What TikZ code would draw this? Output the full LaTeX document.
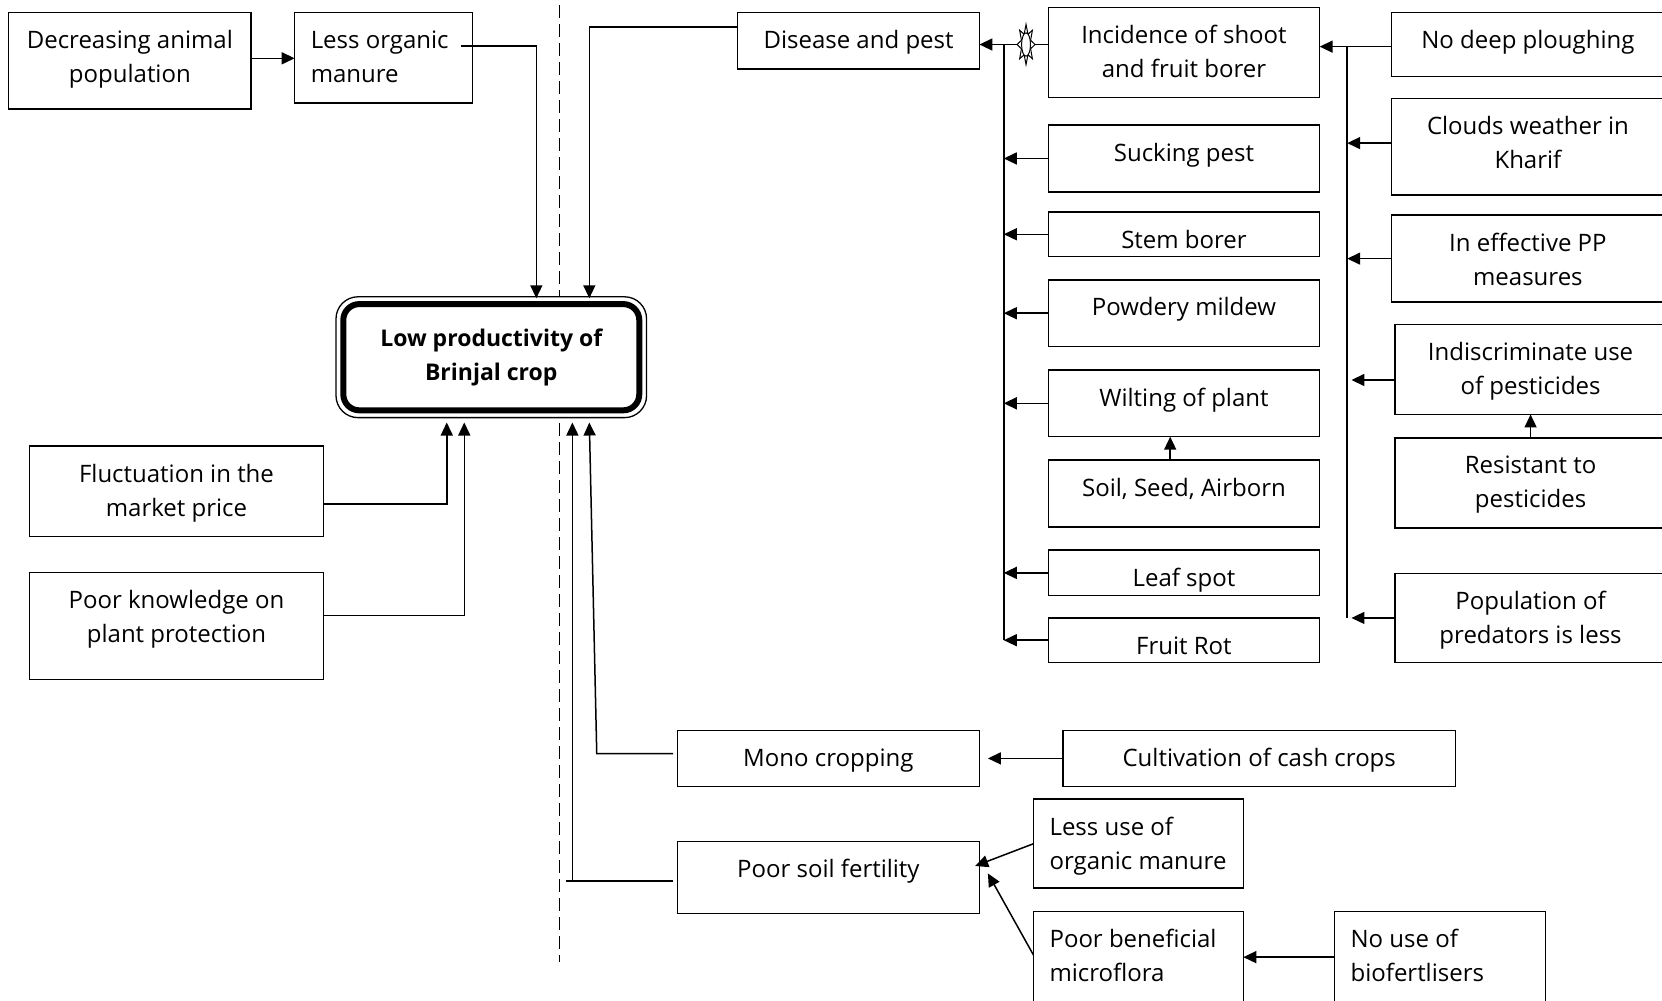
\documentclass[tikz,border=0pt]{standalone}
\usepackage{fontspec}
\setmainfont{Open Sans}
\usetikzlibrary{arrows.meta,calc}

\newcommand\boxfont{\fontsize{24}{34}\selectfont}
\newcommand\mainfont{\fontsize{23}{34}\selectfont\bfseries}

\tikzset{
  frame/.style={draw, line width=1.5pt, inner sep=0pt, outer sep=0pt},
  ctext/.style={font=\boxfont, inner sep=0pt, align=center, anchor=north},
  ltext/.style={font=\boxfont, inner sep=0pt, align=left, anchor=north west},
  conn/.style={line width=1.5pt},
  arr/.style={line width=1.5pt, -{Triangle[length=13pt,width=12pt]}},
  divider/.style={line width=1.3pt, dash pattern=on 13pt off 6pt},
}

% box with centred text: name, x1, y1, x2, y2, text
\newcommand\cbox[6]{%
  \node[frame, minimum width={(#4-#2)*1.06pt}, minimum height={(#5-#3)*1.06pt}]
    (#1) at ({(#2+#4)/2},{(#3+#5)/2}) {};
  \node[ctext] (#1-t) at ($(#1.north)+(0,16)$) {\rule{0pt}{19pt}#6};}
% box with left-aligned text
\newcommand\lbox[6]{%
  \node[frame, minimum width={(#4-#2)*1.06pt}, minimum height={(#5-#3)*1.06pt}]
    (#1) at ({(#2+#4)/2},{(#3+#5)/2}) {};
  \node[ltext] (#1-t) at ($(#1.north west)+(15,16)$) {\rule{0pt}{19pt}#6};}

\begin{document}
\begin{tikzpicture}[x=1.06pt,y=-1.06pt]
\useasboundingbox (0,0) rectangle (1568,944);
\clip (0,0) rectangle (1568,944);

% dashed divider
\coordinate (dtop) at (528,5);
\coordinate (dbot) at (528,908);
\draw[divider] (dtop) -- (dbot);

% central problem
\node[draw, fill=white, line width=1.3pt, rounded corners=22pt, inner sep=0pt,
      minimum width={293*1.06pt}, minimum height={114*1.06pt}] (main) at (463.5,337) {};
\draw[line width=6pt, rounded corners=16pt]
  ($(main.north west)+(7.5,7.5)$) rectangle ($(main.south east)+(-7.5,-7.5)$);
\node[font=\mainfont, align=center, inner sep=0pt] (main-t) at (main.center)
  {Low productivity of\\Brinjal crop};

% left side
\cbox{dap}{8}{12}{237}{103}{Decreasing animal\\population}
\lbox{lom}{278}{12}{446}{97}{Less organic\\manure}
\cbox{fmp}{28}{421}{305}{506}{Fluctuation in the\\market price}
\cbox{pkp}{28}{540}{305}{641}{Poor knowledge on\\plant protection}

% lower middle
\cbox{mono}{639}{689}{924}{742}{Mono cropping}
\cbox{psf}{639}{794}{924}{862}{Poor soil fertility}
\cbox{cult}{1003}{689}{1373}{742}{Cultivation of cash crops}
\lbox{luo}{975}{754}{1173}{838}{Less use of\\organic manure}
\lbox{pbm}{975}{860}{1173}{952}{Poor beneficial\\microflora}
\lbox{nub}{1259}{860}{1458}{952}{No use of\\biofertlisers}

% disease and pest branch
\cbox{dis}{696}{12}{924}{65}{Disease and pest}
\cbox{inc}{989}{7}{1245}{92}{Incidence of shoot\\and fruit borer}
\cbox{suck}{989}{118}{1245}{181}{Sucking pest}
\cbox{stem}{989}{200}{1245}{242}{Stem borer}
\cbox{pow}{989}{264}{1245}{327}{Powdery mildew}
\cbox{wilt}{989}{349}{1245}{412}{Wilting of plant}
\cbox{soil}{989}{434}{1245}{497}{Soil, Seed, Airborn}
\cbox{leaf}{989}{519}{1245}{562}{Leaf spot}
\cbox{rot}{989}{583}{1245}{625}{Fruit Rot}

% causes of pest incidence
\cbox{ndp}{1313}{12}{1570}{72}{No deep ploughing}
\cbox{cwk}{1313}{93}{1570}{184}{Clouds weather in\\Kharif}
\cbox{iep}{1313}{203}{1570}{285}{In effective PP\\measures}
\cbox{idp}{1316}{306}{1572}{391}{Indiscriminate use\\of pesticides}
\cbox{rtp}{1316}{413}{1572}{498}{Resistant to\\pesticides}
\cbox{pop}{1316}{541}{1572}{625}{Population of\\predators is less}

% connector end points
\coordinate (lom-out) at ($(lom.east)+(-11,-11)$);
\coordinate (dis-out) at ($(dis.west)+(0,-13)$);
\coordinate (fmp-out) at ($(fmp.east)+(0,12)$);
\coordinate (pkp-out) at ($(pkp.east)+(0,-10)$);
\coordinate (mono-out) at ($(mono.west)+(-4,-4.5)$);
\coordinate (psf-out) at ($(psf.west)+(-4,3)$);
\coordinate (pbm-out) at ($(pbm.west)+(0,-5)$);
\coordinate (nub-out) at ($(nub.west)+(0,-3)$);
\coordinate (inc-out) at ($(inc.west)+(0,-7.5)$);
\coordinate (ndp-out) at ($(ndp.west)+(0,2)$);
\coordinate (cwk-out) at ($(cwk.west)+(0,-3.5)$);
\coordinate (idp-out) at ($(idp.west)+(0,10)$);
\coordinate (mt1) at ($(main.north)+(42.5,2)$);
\coordinate (mt2) at ($(main.north)+(92.5,2)$);
\coordinate (mb1) at ($(main.south)+(-42,4)$);
\coordinate (mb2) at ($(main.south)+(-25.5,4)$);
\coordinate (mb3) at ($(main.south)+(76.5,4)$);
\coordinate (mb4) at ($(main.south)+(92.5,4)$);

% connectors into the central problem
\draw[arr] (dap.east |- 0,55) -- (lom.west |- 0,55);
\draw[arr] (lom-out) -| (mt1);
\draw[arr] (dis-out) -| (mt2);
\draw[arr] (fmp-out) -| (mb1);
\draw[arr] (pkp-out) -| (mb2);
\coordinate (mbend) at (563,711);
\draw[arr] (mono-out) -- (mbend) -- (mb4);
\coordinate (pbend) at (540,831);
\coordinate (ptail) at (534,831);
\draw[conn] (psf-out) -- (ptail);
\draw[arr] (pbend) -- (mb3);

% lower causes
\draw[arr] (cult.west) -- ($(mono.east)+(8,0)$);
\draw[arr] (luo.west) -- ($(psf.east)+(-4,-11)$);
\draw[arr] (pbm-out) -- ($(psf.east)+(8,-4)$);
\draw[arr] (nub-out) -- (nub-out -| pbm.east);

% pest branch collector
\coordinate (vt) at (947,42);
\coordinate (vb) at (947,604);
\draw[conn] (vt) -- (vb);
\draw[arr] (inc-out) -- (inc-out -| dis.east);
\foreach \b in {suck,stem,pow,wilt,leaf,rot}
  \draw[arr] (\b.west) -- (\b.west -| vt);
\draw[arr] ($(soil.north)+(-13,0)$) -- ($(wilt.south)+(-13,0)$);

% burst mark on the borer connector
\coordinate (burst) at (968,42);
\begin{scope}[shift={(burst)}]
  \draw[fill=white, line width=1pt] (0:8.5 and 19)
    \foreach \i [evaluate=\i as \s using {mod(\i,2)==0 ? 1 : 0.55}] in {1,...,15}
      { -- ({\i*22.5}:{8.5*\s} and {19*\s}) } -- cycle;
  \draw[fill=white, line width=1pt] (0,0) ellipse (4.2 and 11);
\end{scope}

% causes collector
\coordinate (rt) at (1271,44);
\coordinate (rb) at (1271,583);
\coordinate (rt4) at (1275,44);
\draw[conn] (rt) -- (rb);
\draw[arr] (ndp-out) -- (ndp-out -| inc.east);
\draw[arr] (cwk-out) -- (cwk-out -| rt);
\draw[arr] (iep.west) -- (iep.west -| rt);
\draw[arr] (idp-out) -- (idp-out -| rt4);
\draw[arr] (pop.west) -- (pop.west -| rt4);
\draw[arr] (rtp.north) -- (idp.south);
\end{tikzpicture}
\end{document}
